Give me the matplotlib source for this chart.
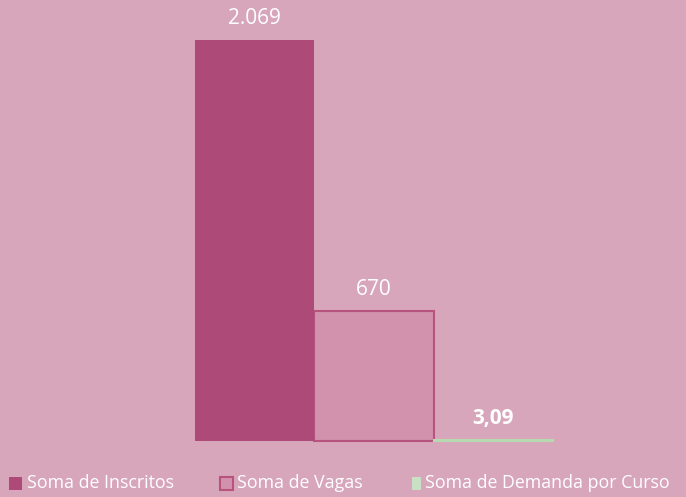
import matplotlib
matplotlib.use("Agg")
import matplotlib.pyplot as plt
from matplotlib.patches import Rectangle

categories = ["Soma de Inscritos", "Soma de Vagas", "Soma de Demanda por Curso"]
values = [2069, 670, 3.09]
labels = ["2.069", "670", "3,09"]

bg = "#D8A6BB"
face = ["#AE4A77", "#D291AD", "#C9E0C4"]
edge = ["#AE4A77", "#B8527F", "#B7D9B0"]

plt.rcParams['font.family'] = ['Open Sans', 'DejaVu Sans']

W, H = 686, 497
fig = plt.figure(figsize=(W / 100, H / 100), dpi=100, facecolor=bg)
left, right = 195, 553
base = 441
ax = fig.add_axes([left / W, (H - base) / H, (right - left) / W, base / H])
ax.set_facecolor(bg)
ax.patch.set_alpha(0)
ymax = values[0] * base / 401.0
ax.set_xlim(-0.5, len(values) - 0.5)
ax.set_ylim(0, ymax)
lws = [0, 1.5, 1.5]
zs = [3, 2, 2]
for i, v in enumerate(values):
    ax.bar(i, v, width=1.0, color=face[i], edgecolor=edge[i], linewidth=lws[i],
           clip_on=False, zorder=zs[i])
offset = ymax * 22 / base
for i, v in enumerate(values):
    ax.text(i, v + offset, labels[i], ha="center", va="center", color="white",
            fontsize=15, fontweight="bold" if i == 2 else "normal", zorder=5)
ax.axis("off")

leg_items = [(9, 27), (220, 237), (412, 425)]
yc = 483
for i, (sx, tx) in enumerate(leg_items):
    w = 13 if i < 2 else 9
    r = Rectangle((sx / W, (H - yc - 6.5) / H), w / W, 13 / H, transform=fig.transFigure,
                  facecolor=face[i], edgecolor=edge[i] if i == 1 else face[i],
                  linewidth=1.5 if i == 1 else 0)
    fig.patches.append(r)
    fig.text(tx / W, (H - yc) / H, categories[i], ha="left", va="center", color="white", fontsize=12.8)

fig.savefig("out.png", dpi=100, facecolor=bg)
